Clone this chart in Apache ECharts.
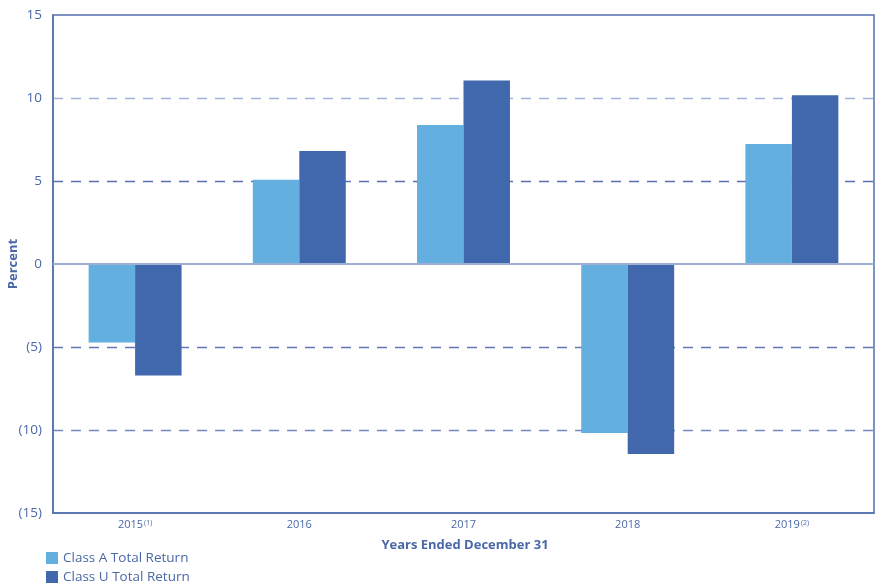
<!DOCTYPE html>
<html>
<head>
<meta charset="utf-8">
<style>
    html, body { margin: 0; padding: 0; background: #fff; }
    #chart { width: 876px; height: 584px; }
</style>
</head>
<body>
<div id="chart"></div>
<script src="https://cdn.jsdelivr.net/npm/echarts@6/dist/echarts.min.js"></script>
<script>
// years on the x axis, superscript notes kept apart
var years = ['2015', '2016', '2017', '2018', '2019'];
var yearNotes = ['(1)', '', '', '', '(2)'];
var classA = [-4.73, 5.07, 8.37, -10.18, 7.23];
var classU = [-6.71, 6.81, 11.06, -11.44, 10.16];
var seriesNames = ['Class A Total Return', 'Class U Total Return'];

var textColor = '#4a68a8';
var fontFamily = '"Open Sans", "Noto Sans", sans-serif';

function legendRow(name, top) {
    return {
        data: [name],
        left: 46, top: top,
        padding: 0,
        itemWidth: 12, itemHeight: 12,
        icon: 'rect',
        textStyle: { color: textColor, fontSize: 13.5, fontFamily: fontFamily }
    };
}

var chart = echarts.init(document.getElementById('chart'));
chart.setOption({
    animation: false,
    textStyle: { fontFamily: fontFamily, color: textColor },
    color: ['#62afe0', '#4167ac'],
    grid: {
        left: 53, right: 2, top: 15, bottom: 71,
        outerBoundsMode: 'none',
        containLabel: false,
        show: true, borderColor: '#5470ad', borderWidth: 1.5
    },
    legend: [legendRow(seriesNames[0], 551), legendRow(seriesNames[1], 570)],
    xAxis: {
        type: 'category',
        data: years,
        name: 'Years Ended December 31',
        nameLocation: 'middle',
        nameGap: 26,
        nameMoveOverlap: false,
        nameTextStyle: { fontSize: 13, fontWeight: 'bold', color: textColor, padding: [0, 0, 0, 3] },
        axisLine: { onZero: false, lineStyle: { color: '#5470ad', width: 1.5 } },
        axisTick: { show: false },
        axisLabel: {
            margin: 6,
            fontSize: 11,
            color: textColor,
            formatter: function (v, i) {
                return yearNotes[i] ? v + '{sup|' + yearNotes[i] + '}' : v;
            },
            rich: {
                sup: { fontSize: 7, verticalAlign: 'top', padding: [0, 0, 5, 1], color: textColor }
            }
        }
    },
    yAxis: {
        type: 'value',
        min: -15, max: 15, interval: 5,
        name: 'Percent',
        nameLocation: 'middle',
        nameGap: 33,
        nameMoveOverlap: false,
        nameTextStyle: { fontSize: 13, fontWeight: 'bold', color: textColor },
        axisLine: { show: true, lineStyle: { color: '#5470ad', width: 1.5 } },
        axisTick: { show: false },
        axisLabel: {
            margin: 11,
            fontSize: 13.5,
            color: textColor,
            formatter: function (v) { return v < 0 ? '(' + (-v) + ')' : String(v); }
        },
        splitLine: {
            show: true,
            lineStyle: {
                type: [10, 8],
                width: 1.3,
                color: ['rgba(0,0,0,0)', '#7088bc', '#6278b2', 'rgba(0,0,0,0)', '#5a71ac', '#a2b3d8', 'rgba(0,0,0,0)']
            }
        }
    },
    series: [
        {
            name: seriesNames[0],
            type: 'bar',
            data: classA,
            barWidth: '28.3%',
            barGap: '0%',
            markLine: {
                silent: true,
                symbol: 'none',
                label: { show: false },
                lineStyle: { color: '#9eafd4', type: 'solid', width: 2 },
                data: [{ yAxis: 0 }]
            }
        },
        {
            name: seriesNames[1],
            type: 'bar',
            data: classU,
            barWidth: '28.3%',
            barGap: '0%'
        }
    ]
});
</script>
</body>
</html>
